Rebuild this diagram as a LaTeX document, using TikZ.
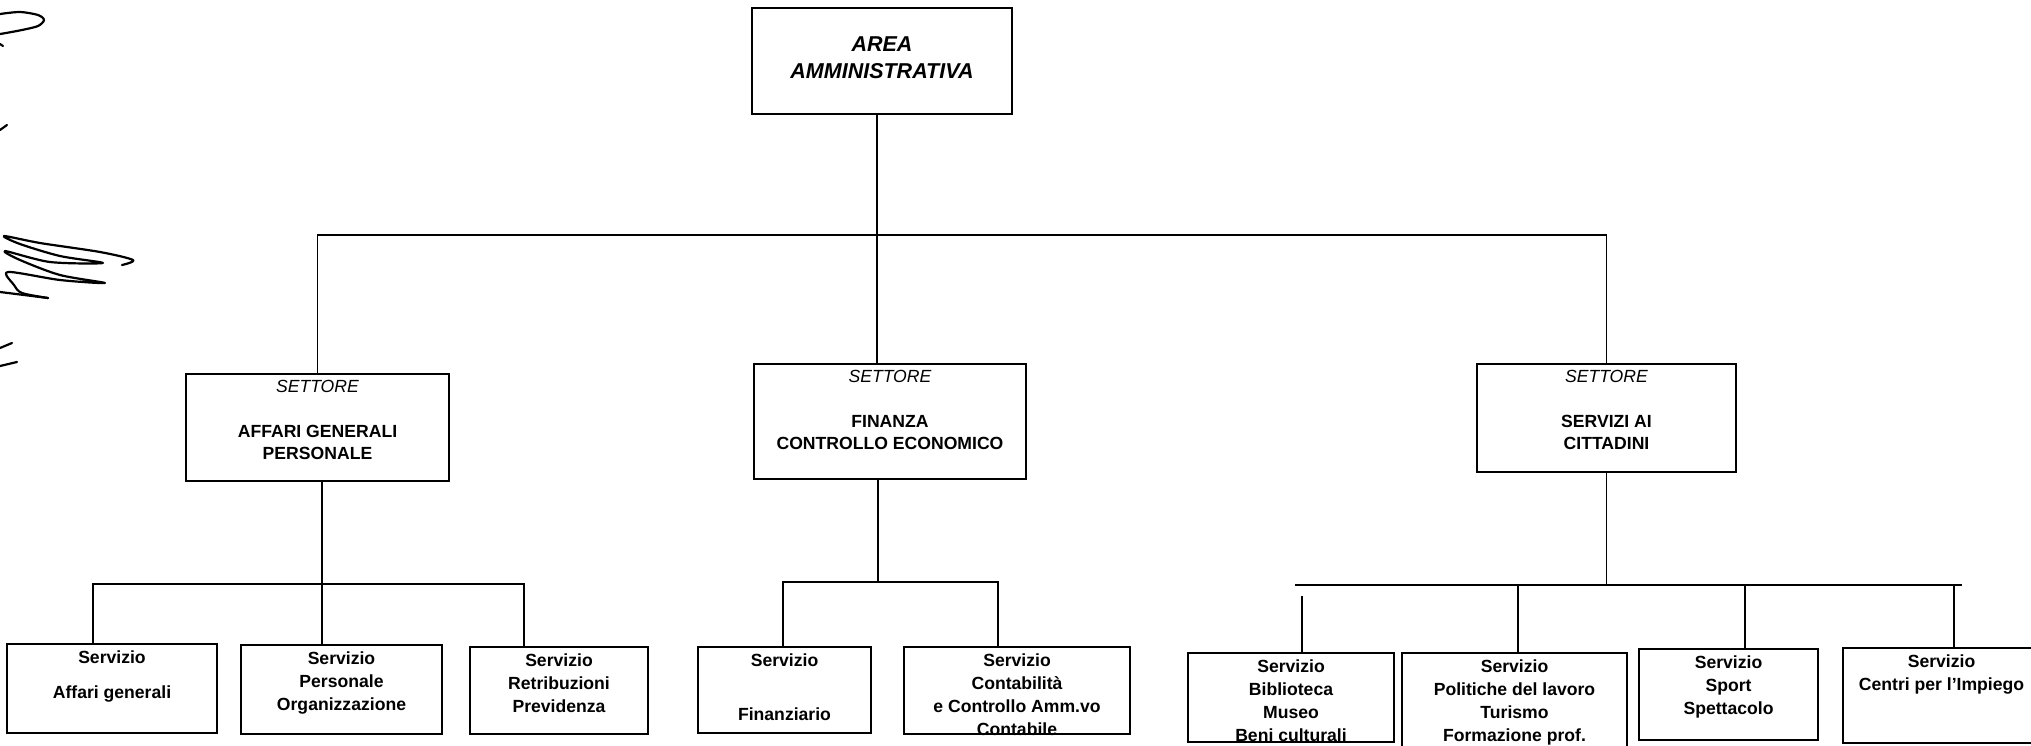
\documentclass[tikz,border=0pt]{standalone}
\usepackage{fontspec}
\setmainfont{Liberation Sans}
\usepackage{tikz}

\newcommand\servfont{\fontsize{17.6}{23}\selectfont\bfseries}
\newcommand\settfont{\fontsize{17.6}{22}\selectfont\bfseries}
\newcommand\areafont{\fontsize{21.5}{27}\selectfont\bfseries\itshape}

\begin{document}
\begin{tikzpicture}
[x=1pt, y=-1pt, line width=1.1pt,
 box/.style 2 args={draw, minimum width=#1, minimum height=#2, inner sep=0pt},
 txt/.style={anchor=north, align=center, inner sep=0pt, yshift=-7pt, font=\servfont},
 sett/.style={anchor=north, align=center, inner sep=0pt, yshift=-6pt, font=\settfont},
 pen/.style={line width=2.2pt, line cap=round, line join=round}]
\path[use as bounding box, fill=white] (0,0) rectangle (2031,745);
\def\gap{\\[23pt]}
% area
\node[box={260}{106}, label={[font=\areafont, align=center, inner sep=0pt, yshift=3pt]center:{AREA\\AMMINISTRATIVA}}] (area) at (882,61) {};
% settori
\node[box={263}{107}, label={[sett]north:{\textit{\mdseries SETTORE}\gap AFFARI GENERALI\\PERSONALE}}] (agp) at (317.5,427.5) {};
\node[box={272}{115}, label={[sett]north:{\textit{\mdseries SETTORE}\gap FINANZA\\CONTROLLO ECONOMICO}}] (fin) at (890,421.5) {};
\node[box={259}{108}, label={[sett]north:{\textit{\mdseries SETTORE}\gap SERVIZI AI\\CITTADINI}}] (sac) at (1606.5,418) {};
% servizi
\node[box={210}{89}, label={[txt]north:{Servizio\\[12pt]Affari generali}}] (ag) at (112,688.5) {};
\node[box={201}{89}, label={[txt]north:{Servizio\\Personale\\Organizzazione}}] (pers) at (341.5,689.5) {};
\node[box={178}{87}, label={[txt]north:{Servizio\\Retribuzioni\\Previdenza}}] (retr) at (559,690.5) {};
\node[box={173}{86}, label={[txt]north:{Servizio\\[31pt]Finanziario}}] (finz) at (784.5,690) {};
\node[box={226}{87}, label={[txt]north:{Servizio\\Contabilità\\e Controllo Amm.vo\\Contabile}}] (cont) at (1017,690.5) {};
\node[box={206}{89}, label={[txt]north:{Servizio\\Biblioteca\\Museo\\Beni culturali}}] (bib) at (1291,697.5) {};
\node[box={225}{107}, label={[txt]north:{Servizio\\Politiche del lavoro\\Turismo\\Formazione prof.}}] (pol) at (1514.5,706.5) {};
\node[box={179}{91}, label={[txt]north:{Servizio\\Sport\\Spettacolo}}] (sport) at (1728.5,694.5) {};
\node[box={197}{95}, label={[txt]north:{Servizio\\Centri per l'Impiego}}] (centri) at (1941.5,695.5) {};
% primo livello
\coordinate (bus) at (877,235);
\draw (bus |- area.south) -- (bus |- fin.north);
\draw (agp.north) |- (bus) -| (sac.north);
% affari generali
\coordinate (busL) at (322,584);
\coordinate (dL1) at (93,584);
\coordinate (dL3) at (524,584);
\draw (busL |- agp.south) -- (busL |- pers.north);
\draw (dL1 |- ag.north) -- (dL1) -- (dL3) -- (dL3 |- retr.north);
% finanza
\coordinate (busM) at (878,582);
\coordinate (dM1) at (783,582);
\coordinate (dM3) at (998,582);
\draw (busM |- fin.south) -- (busM);
\draw (dM1 |- finz.north) -- (dM1) -- (dM3) -- (dM3 |- cont.north);
% servizi ai cittadini
\coordinate (dR0) at (1295,585);
\coordinate (dR5) at (1962,585);
\draw (dR0) -- (dR5);
\draw (sac.south) -- (sac.south |- dR0);
\coordinate (dR1) at (1302,596);
\draw (dR1) -- (dR1 |- bib.north);
\coordinate (dR2) at (1518,585);
\coordinate (dR3) at (1745,585);
\coordinate (dR4) at (1954,585);
\foreach \d/\b in {dR2/pol, dR3/sport, dR4/centri}
  \draw (\d) -- (\d |- \b.north);
% firma
\draw[pen] plot[smooth] coordinates {(0,14) (20,12) (38,15) (44,20) (38,26) (22,30) (6,33) (0,34)};
\draw[pen] (0,44) -- (3,46);
\draw[pen] (0,130) -- (7,125);
\draw[pen] plot[smooth] coordinates {(122,265) (133,260) (100,252) (40,243) (4,236) (20,244) (60,256) (103,263) (50,262) (5,251) (20,260) (60,275) (105,283) (60,280) (8,272) (14,285) (22,293) (48,298)};
\draw[pen] (0,292) -- (48,298);
\draw[pen] (0,348) -- (12,343);
\draw[pen] (0,366) -- (17,362);
\end{tikzpicture}
\end{document}
